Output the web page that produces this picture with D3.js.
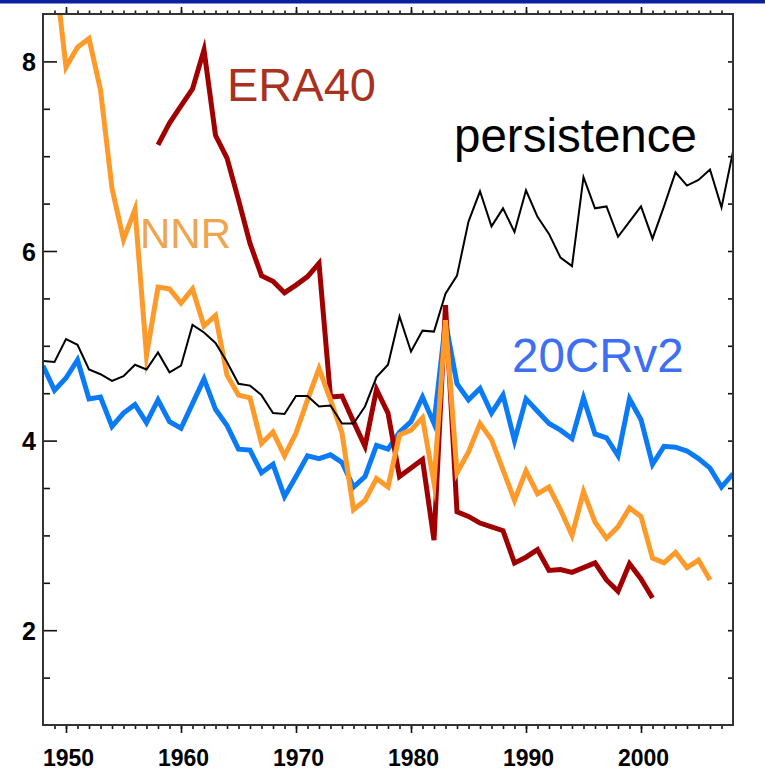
<!DOCTYPE html>
<html>
<head>
<meta charset="utf-8">
<script src="https://cdn.jsdelivr.net/npm/d3@7"></script>
<style>
  html, body { margin: 0; padding: 0; background: #ffffff; }
  svg { display: block; }
</style>
</head>
<body>
<svg id="chart" width="765" height="783"></svg>
<script>
// Annual values per data set
const nnrStart = 1948;
const nnrValues = [9.35, 9.0, 7.94, 8.15, 8.24, 7.70, 6.66, 6.12, 6.44, 4.90,
  5.62, 5.60, 5.45, 5.60, 5.21, 5.32, 4.69, 4.48, 4.45, 3.97,
  4.09, 3.84, 4.08, 4.43, 4.76, 4.43, 4.08, 3.27, 3.37, 3.60,
  3.51, 4.06, 4.11, 4.24, 3.55, 5.27, 3.66, 3.88, 4.18, 4.01,
  3.69, 3.37, 3.68, 3.44, 3.51, 3.27, 3.00, 3.46, 3.14, 2.97,
  3.09, 3.29, 3.20, 2.76, 2.71, 2.82, 2.66, 2.74, 2.53];

const era40Start = 1958;
const era40Values = [7.12, 7.35, 7.53, 7.71, 8.12, 7.22, 6.98, 6.54, 6.08, 5.74,
  5.68, 5.56, 5.64, 5.73, 5.87, 4.46, 4.47, 4.20, 3.94, 4.54,
  4.29, 3.62, 3.71, 3.80, 2.95, 5.43, 3.25, 3.20, 3.13, 3.09,
  3.05, 2.71, 2.77, 2.85, 2.63, 2.64, 2.61, 2.66, 2.71, 2.53,
  2.41, 2.70, 2.54, 2.34];

const cr20Start = 1948;
const cr20Values = [4.79, 4.53, 4.66, 4.85, 4.44, 4.46, 4.15, 4.29, 4.38, 4.19,
  4.43, 4.20, 4.13, 4.39, 4.65, 4.33, 4.16, 3.91, 3.90, 3.66,
  3.75, 3.41, 3.62, 3.84, 3.81, 3.85, 3.77, 3.51, 3.62, 3.95,
  3.91, 4.09, 4.20, 4.46, 4.18, 5.25, 4.60, 4.43, 4.55, 4.29,
  4.48, 4.00, 4.44, 4.31, 4.18, 4.11, 4.02, 4.45, 4.07, 4.03,
  3.84, 4.44, 4.22, 3.75, 3.94, 3.93, 3.89, 3.81, 3.71, 3.51,
  3.65];

const persStart = 1948;
const persValues = [4.84, 4.83, 5.07, 5.01, 4.75, 4.70, 4.63, 4.68, 4.80, 4.75,
  4.93, 4.72, 4.79, 5.22, 5.14, 5.03, 4.83, 4.60, 4.58, 4.48,
  4.29, 4.28, 4.47, 4.47, 4.36, 4.37, 4.18, 4.18, 4.36, 4.67,
  4.80, 5.31, 4.94, 5.16, 5.15, 5.55, 5.74, 6.31, 6.63, 6.26,
  6.45, 6.20, 6.64, 6.36, 6.18, 5.93, 5.84, 6.78, 6.45, 6.47,
  6.15, 6.31, 6.47, 6.13, 6.47, 6.83, 6.69, 6.75, 6.86, 6.46,
  7.05];

// Axis ticks
const xMajorTicks = [1950, 1960, 1970, 1980, 1990, 2000];
const xMinorTicks = d3.range(1949, 2008);
const yMajorTicks = [2, 4, 6, 8];
const yMinorTicks = [1.5, 2.5, 3, 3.5, 4.5, 5, 5.5, 6.5, 7, 7.5];
const yAllTicks = [1.5, 2, 2.5, 3, 3.5, 4, 4.5, 5, 5.5, 6, 6.5, 7, 7.5, 8];

// Series labels
const seriesLabels = ["ERA40", "persistence", "NNR", "20CRv2"];

const W = 765, H = 783;
const plotL = 43, plotR = 733, plotT = 14, plotB = 725;
const FONT = "'Liberation Sans', Arial, Helvetica, sans-serif";

const svg = d3.select("#chart");

svg.append("rect").attr("x", 0).attr("y", 0).attr("width", W).attr("height", H).attr("fill", "#ffffff");
// header strip
svg.append("rect").attr("x", 0).attr("y", 0).attr("width", W).attr("height", 3.5).attr("fill", "#0b209f");

const x = d3.scaleLinear().domain([1948, 2008]).range([plotL, plotR]);
const y = d3.scaleLinear().domain([1, 8.5]).range([plotB, plotT]);

function toPoints(start, vals) {
  return vals.map((v, i) => ({ year: start + i, v: v }));
}

svg.append("clipPath").attr("id", "plotClip")
  .append("rect").attr("x", plotL).attr("y", plotT).attr("width", plotR - plotL).attr("height", plotB - plotT);

const line = d3.line().x(d => x(d.year)).y(d => y(d.v));
const plot = svg.append("g").attr("clip-path", "url(#plotClip)");

const series = [
  { pts: toPoints(cr20Start, cr20Values), color: "#0a7bf5", width: 5 },
  { pts: toPoints(era40Start, era40Values), color: "#a10000", width: 5 },
  { pts: toPoints(nnrStart, nnrValues), color: "#fd9a2a", width: 5 },
  { pts: toPoints(persStart, persValues), color: "#000000", width: 2 }
];

series.forEach(s => {
  plot.append("path")
    .datum(s.pts)
    .attr("d", line)
    .attr("fill", "none")
    .attr("stroke", s.color)
    .attr("stroke-width", s.width)
    .attr("stroke-linejoin", "miter")
    .attr("stroke-miterlimit", 10);
});

// Axes
function styleAxis(g) {
  g.select(".domain").remove();
  g.selectAll(".tick line").attr("stroke", "#111").attr("stroke-width", 1.6);
  g.attr("font-size", 23).attr("font-weight", "bold").attr("font-family", FONT);
}

svg.append("g").attr("transform", `translate(0,${plotB})`)
  .call(d3.axisBottom(x).tickValues(xMinorTicks).tickSize(4).tickFormat(""))
  .call(styleAxis);
const xb = svg.append("g").attr("transform", `translate(0,${plotB})`)
  .call(d3.axisBottom(x).tickValues(xMajorTicks).tickSize(8).tickPadding(0).tickFormat(d3.format("d")))
  .call(styleAxis);
xb.selectAll(".tick text")
  .attr("y", 41).attr("dy", 0).attr("dx", 2)
  .attr("fill", "#000");

svg.append("g").attr("transform", `translate(0,${plotT})`)
  .call(d3.axisTop(x).tickValues(xMinorTicks).tickSize(3.5).tickFormat(""))
  .call(styleAxis);
svg.append("g").attr("transform", `translate(0,${plotT})`)
  .call(d3.axisTop(x).tickValues(xMajorTicks).tickSize(7).tickFormat(""))
  .call(styleAxis);

svg.append("g").attr("transform", `translate(${plotL},0)`)
  .call(d3.axisLeft(y).tickValues(yMinorTicks).tickSize(-7).tickFormat(""))
  .call(styleAxis);
const yl = svg.append("g").attr("transform", `translate(${plotL},0)`)
  .call(d3.axisLeft(y).tickValues(yMajorTicks).tickSize(-14).tickFormat(d3.format("d")))
  .call(styleAxis);
yl.attr("font-size", 25);
yl.selectAll(".tick text")
  .attr("x", -7).attr("dy", 9)
  .attr("fill", "#000");

svg.append("g").attr("transform", `translate(${plotR},0)`)
  .call(d3.axisRight(y).tickValues(yAllTicks).tickSize(-5).tickFormat(""))
  .call(styleAxis);

// Frame
svg.append("rect")
  .attr("x", plotL).attr("y", plotT)
  .attr("width", plotR - plotL).attr("height", plotB - plotT)
  .attr("fill", "none").attr("stroke", "#333").attr("stroke-width", 2);

// Series names
const labelSpec = [
  { text: seriesLabels[0], x: 227, y: 101, size: 47, color: "#a9321e" },
  { text: seriesLabels[1], x: 454, y: 152, size: 47.5, color: "#000000" },
  { text: seriesLabels[2], x: 140, y: 248, size: 42, color: "#eda64f" },
  { text: seriesLabels[3], x: 512, y: 372, size: 47.5, color: "#3c6ff3" }
];
labelSpec.forEach(l => {
  svg.append("text")
    .attr("x", l.x).attr("y", l.y)
    .attr("fill", l.color)
    .attr("font-family", FONT)
    .attr("font-size", l.size)
    .text(l.text);
});
</script>
</body>
</html>
